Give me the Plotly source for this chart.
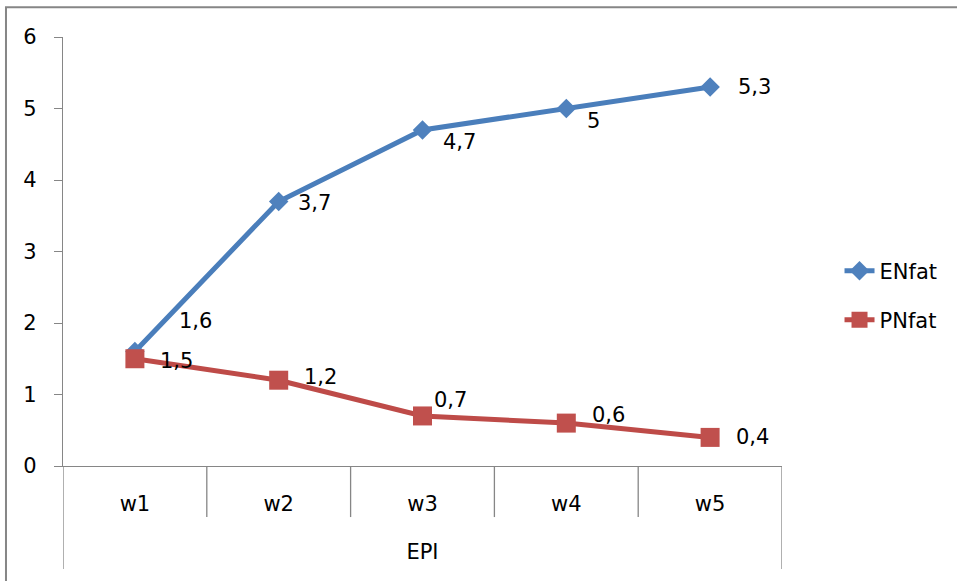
import plotly.graph_objects as go

# Data
categories = ["w1", "w2", "w3", "w4", "w5"]
group_label = "EPI"
enfat = [1.6, 3.7, 4.7, 5.0, 5.3]
pnfat = [1.5, 1.2, 0.7, 0.6, 0.4]

# Label offsets (pixels) for the value labels of each series
enfat_shift = [(61, 31), (36, -2), (37, -12), (27, -12), (44, 0)]
pnfat_shift = [(42, -2), (42, 3), (28, 16), (42, 8), (42, 0)]

BLUE_LINE, BLUE_MARK = "#4A7EBB", "#4F81BD"
RED_LINE, RED_MARK = "#BE4B48", "#C0504D"
GRAY = "#868686"
FONT = "DejaVu Sans"
FS = 21


def fmt(v):
    s = f"{v:g}"
    return s.replace(".", ",")


fig = go.Figure()
fig.add_trace(go.Scatter(
    x=categories, y=enfat, name="ENfat", mode="lines+markers",
    line=dict(color=BLUE_LINE, width=5),
    marker=dict(symbol="diamond", size=15, color=BLUE_MARK),
    legend="legend",
))
fig.add_trace(go.Scatter(
    x=categories, y=pnfat, name="PNfat", mode="lines+markers",
    line=dict(color=RED_LINE, width=5),
    marker=dict(symbol="square", size=19, color=RED_MARK),
    legend="legend2",
))

annotations = []
for series, shifts in ((enfat, enfat_shift), (pnfat, pnfat_shift)):
    for c, v, (dx, dy) in zip(categories, series, shifts):
        annotations.append(dict(
            x=c, y=v, xref="x", yref="y", text=fmt(v), showarrow=False,
            xshift=dx, yshift=dy, font=dict(family=FONT, size=FS, color="black"),
        ))

# Two-level category axis: dividers between categories and outer bounds
n = len(categories)
shapes = []
for i in range(n + 1):
    outer = i in (0, n)
    shapes.append(dict(
        type="line", xref="x", yref="paper",
        x0=i - 0.5, x1=i - 0.5, y0=0, y1=-0.240 if outer else -0.119,
        line=dict(color=GRAY, width=1.3),
    ))
# Chart frame
shapes.append(dict(
    type="rect", xref="paper", yref="paper",
    x0=-0.0793, x1=1.3, y0=1.0696, y1=-0.3,
    line=dict(color=GRAY, width=2), layer="below",
))

fig.update_layout(
    width=957, height=581,
    margin=dict(l=63, r=175, t=37, b=115),
    paper_bgcolor="white", plot_bgcolor="white",
    font=dict(family=FONT, size=FS, color="black"),
    showlegend=True,
    legend=dict(x=1.08, y=0.4545, xanchor="left", yanchor="middle",
                font=dict(family=FONT, size=FS), bgcolor="rgba(0,0,0,0)"),
    legend2=dict(x=1.08, y=0.340, xanchor="left", yanchor="middle",
                 font=dict(family=FONT, size=FS), bgcolor="rgba(0,0,0,0)"),
    xaxis=dict(
        type="category", range=[-0.5, n - 0.5], showgrid=False,
        showline=True, linecolor=GRAY, linewidth=1.3, ticks="",
        ticklabelstandoff=19, zeroline=False,
        title=dict(text=group_label, standoff=28, font=dict(family=FONT, size=FS)),
    ),
    yaxis=dict(
        range=[0, 6], dtick=1, showgrid=False, zeroline=False,
        showline=True, linecolor=GRAY, linewidth=1.3,
        ticks="outside", ticklen=8, tickcolor=GRAY, tickwidth=1.3,
        ticklabelstandoff=13,
    ),
    annotations=annotations,
    shapes=shapes,
)

fig.write_html("out.html")
